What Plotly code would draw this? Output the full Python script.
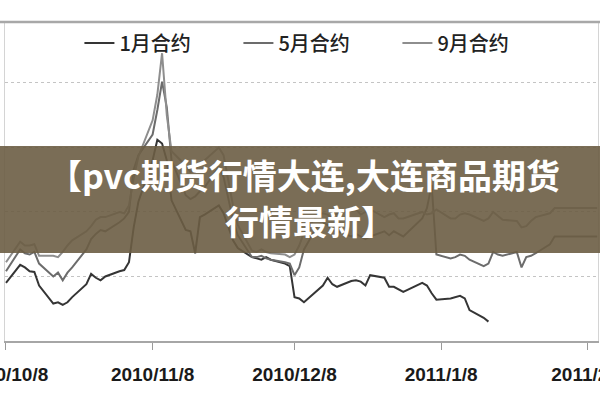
import plotly.graph_objects as go

# Trading dates (x values)
dates = [
    "2010-10-08", "2010-10-11", "2010-10-12", "2010-10-13", "2010-10-14", "2010-10-15",
    "2010-10-18", "2010-10-19", "2010-10-20", "2010-10-21", "2010-10-22",
    "2010-10-25", "2010-10-26", "2010-10-27", "2010-10-28", "2010-10-29",
    "2010-11-01", "2010-11-02", "2010-11-03", "2010-11-04", "2010-11-05",
    "2010-11-08", "2010-11-09", "2010-11-10", "2010-11-11", "2010-11-12",
    "2010-11-15", "2010-11-16", "2010-11-17", "2010-11-18", "2010-11-19",
    "2010-11-22", "2010-11-23", "2010-11-24", "2010-11-25", "2010-11-26",
    "2010-11-29", "2010-11-30", "2010-12-01", "2010-12-02", "2010-12-03",
    "2010-12-06", "2010-12-07", "2010-12-08", "2010-12-09", "2010-12-10",
    "2010-12-13", "2010-12-14", "2010-12-15", "2010-12-16", "2010-12-17",
    "2010-12-20", "2010-12-21", "2010-12-22", "2010-12-23", "2010-12-24",
    "2010-12-27", "2010-12-28", "2010-12-29", "2010-12-30", "2010-12-31",
    "2011-01-04", "2011-01-05", "2011-01-06", "2011-01-07",
    "2011-01-10", "2011-01-11", "2011-01-12", "2011-01-13", "2011-01-14",
    "2011-01-17", "2011-01-18", "2011-01-19", "2011-01-20", "2011-01-21",
    "2011-01-24", "2011-01-25", "2011-01-26", "2011-01-27", "2011-01-28",
    "2011-01-31", "2011-02-01", "2011-02-09", "2011-02-10",
]

series_names = ["1月合约", "5月合约", "9月合约"]

jan_contract = [
    6950, 7090, 7070, 7040, 7035, 6930, 6790, 6800, 6780, 6800, 6840, 6940, 7020, 6990, 6970, 7000,
    7040, 7050, 7110, 7380, 7580, 7900, 8060, 8030, 7900, 7590, 7360, 7350, 7180, 7460, 7480,
    7550, 7490, 7380, 7280, 7220, 7150, 7140,
    7130, 7150, 7130, 7100, 7080, 6840, 6830, 6800, 6900, 6930, 6990, 6940, 6920,
    6965, 6970, 6960, 6930, 7010, 6990, 6920, 6920, 6900, 6880,
    6950, 6930, 6870, 6820, 6830, 6840, 6850, 6830, 6740, 6680, 6650,
]

may_contract = [
    7040, 7210, 7180, 7170, 7190, 7100, 7000, 7030, 6970, 7030, 7070, 7210, 7290, 7330, 7360, 7350,
    7420, 7450, 7500, 7830, 7940, 8100, 8290, 8510, 8310, 7900, 7630, 7600, 7620, 7660, 7690,
    7850, 7770, 7610, 7440, 7320, 7150, 7150,
    7160, 7140, 7130, 7110, 7100, 7010, 7070, 7210, 7400, 7410, 7400, 7360, 7350,
    7310, 7330, 7310, 7290, 7310, 7350, 7320, 7350, 7330, 7310,
    7450, 7530, 7710, 7170, 7140, 7150, 7170, 7160, 7130, 7080, 7100, 7190, 7170, 7160,
    7190, 7070, 7150, 7160, 7180, 7250,
    7310, 7310, 7310,
]

sep_contract = [
    7110, 7270, 7240, 7240, 7250, 7160, 7160, 7150, 7190, 7240, 7280, 7350, 7390, 7440, 7460, 7460,
    7500, 7490, 7550, 7760, 7930, 8210, 8410, 8730, 8250, 7970, 7860, 7810, 7830, 7870, 7900,
    8000, 7940, 7750, 7550, 7400, 7200, 7190,
    7210, 7190, 7180, 7170, 7150, 7170, 7240, 7340, 7480, 7490, 7480, 7450, 7490,
    7510, 7520, 7480, 7500, 7520, 7460, 7480, 7490, 7450, 7450,
    7500, 7480, 7490, 7520, 7450, 7450, 7480, 7490, 7480, 7430, 7450, 7500, 7470, 7440,
    7430, 7380, 7390, 7430, 7460, 7490,
    7530, 7530, 7530,
]

tick_vals = ["2010-10-08", "2010-11-08", "2010-12-08", "2011-01-08", "2011-02-08"]
tick_text = ["2010/10/8", "2010/11/8", "2010/12/8", "2011/1/8", "2011/2/8"]

title_line1 = "【pvc期货行情大连,大连商品期货"
title_line2 = "行情最新】"

colors = ["#353535", "#6c6c6c", "#8e8e8e"]
values = [jan_contract, may_contract, sep_contract]

fig = go.Figure()
for name, vals, col in zip(series_names, values, colors):
    fig.add_trace(go.Scatter(
        x=dates[:len(vals)], y=vals, name=name, mode="lines",
        line=dict(color=col, width=2),
    ))

fig.update_layout(
    width=600, height=400,
    margin=dict(l=5, r=2, t=22, b=59, autoexpand=False),
    paper_bgcolor="white", plot_bgcolor="white",
    showlegend=True,
    legend=dict(
        orientation="h", x=0.1255, y=0.934, xanchor="left", yanchor="middle",
        font=dict(family="Noto Sans CJK SC", size=20, color="#222222", weight=500),
        entrywidth=114, entrywidthmode="pixels",
        bgcolor="rgba(0,0,0,0)", borderwidth=0,
    ),
    xaxis=dict(
        type="date", range=["2010-10-07 19:00", "2011-02-10 04:00"],
        tickvals=tick_vals, ticktext=tick_text,
        ticks="outside", ticklen=7, tickcolor="#9a9a9a", tickwidth=1,
        showgrid=False, showline=True, linecolor="#a6a6a6", linewidth=1.5,
        tickfont=dict(family="Liberation Sans", size=19, color="#1a1a1a", weight="bold"),
        ticklabelstandoff=8, ticklabeloverflow="allow", automargin=False, zeroline=False,
    ),
    yaxis=dict(
        range=[6500, 8972], tick0=6500, dtick=500,
        showticklabels=False, ticks="", automargin=False,
        showgrid=True, gridcolor="#c4c4c4", griddash="dot", gridwidth=1,
        zeroline=False, showline=True, mirror=True, linecolor="#d4d4d4", linewidth=1,
    ),
    shapes=[
        dict(type="line", xref="paper", yref="paper", x0=-0.01, x1=1.01, y0=1.0, y1=1.0,
             line=dict(color="#a8a8a8", width=2.5), layer="above"),
        dict(type="rect", xref="paper", yref="paper", x0=-0.01, x1=1.01, y0=0.2759, y1=0.6113,
             fillcolor="rgba(108,93,68,0.9)", line=dict(width=0), layer="above"),
    ],
    annotations=[
        dict(text=title_line1, xref="paper", yref="paper", x=0.504, y=0.5234,
             xanchor="center", yanchor="middle", showarrow=False,
             font=dict(family="Noto Sans CJK SC", size=34, color="white", weight="bold")),
        dict(text=title_line2, xref="paper", yref="paper", x=0.5143, y=0.3762,
             xanchor="center", yanchor="middle", showarrow=False,
             font=dict(family="Noto Sans CJK SC", size=34, color="white", weight="bold")),
    ],
)

fig.write_html(
    "out.html",
    config={"displayModeBar": False},
    post_script="document.body.style.margin='0';document.body.style.overflow='hidden';",
)
